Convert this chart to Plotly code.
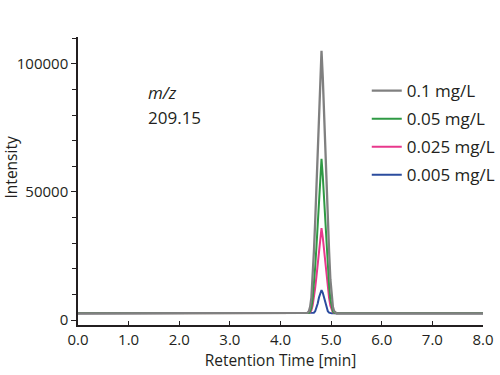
import plotly.graph_objects as go

# Retention time samples (min)
rt = [0.0, 4.51, 4.535, 4.56, 4.585, 4.61, 4.635, 4.66, 4.685, 4.71, 4.735, 4.76, 4.785, 4.81,
      4.835, 4.86, 4.885, 4.91, 4.935, 4.96, 4.985, 5.01, 5.035, 5.06, 5.085, 5.11, 8.0]

# Intensities
int_01 = [2600, 2600, 2805, 3420, 5160, 8750, 15930, 26690, 38480, 50780, 64100, 80500, 94850, 105100,
          94850, 80500, 64100, 50780, 38480, 26690, 15930, 8750, 5160, 3420, 2805, 2600, 2600]
int_005 = [2600, 2600, 2600, 2780, 3320, 4710, 8030, 13450, 20690, 28530, 36970, 47220, 56270, 62900,
           56270, 47220, 36970, 28530, 20690, 13450, 8030, 4710, 3320, 2780, 2600, 2600, 2600]
int_0025 = [2600, 2600, 2600, 2700, 3000, 3770, 5600, 8590, 12590, 16920, 21580, 27240, 32240, 35900,
            32240, 27240, 21580, 16920, 12590, 8590, 5600, 3770, 3000, 2700, 2600, 2600, 2600]
int_0005 = [2600, 2600, 2600, 2600, 2600, 2600, 2670, 2870, 3420, 4600, 6420, 8790, 10610, 11700,
            10610, 8790, 6420, 4600, 3420, 2870, 2670, 2600, 2600, 2600, 2600, 2600, 2600]

series_names = ["0.1 mg/L", "0.05 mg/L", "0.025 mg/L", "0.005 mg/L"]
series_values = [int_01, int_005, int_0025, int_0005]
series_colors = ["#808080", "#2f9a44", "#e8388c", "#2b4c9e"]
series_widths = [2.3, 2, 2, 2]

x_ticks = [0, 1, 2, 3, 4, 5, 6, 7, 8]
x_ticklabels = ["0.0", "1.0", "2.0", "3.0", "4.0", "5.0", "6.0", "7.0", "8.0"]
y_ticks = [0, 50000, 100000]
y_ticklabels = ["0", "50000", "100000"]

FONT = "Open Sans"

fig = go.Figure()
# draw smallest first so gray is on top; legend order set by legendrank
for i in reversed(range(4)):
    fig.add_trace(go.Scatter(
        x=rt, y=series_values[i], mode="lines", name=series_names[i],
        legendgroup=series_names[i], legendrank=i + 1,
        line=dict(color=series_colors[i], width=series_widths[i]),
    ))

fig.update_layout(
    width=500, height=375,
    margin=dict(l=78, r=17, t=37, b=50, autoexpand=False),
    paper_bgcolor="white", plot_bgcolor="white",
    font=dict(family=FONT, color="#231f20", size=15),
    showlegend=True,
    legend=dict(
        traceorder="grouped", x=0.713, y=0.875, xanchor="left", yanchor="top",
        bgcolor="rgba(0,0,0,0)", borderwidth=0, tracegroupgap=3,
        font=dict(family=FONT, size=17, color="#231f20"),
        itemwidth=30,
    ),
    xaxis=dict(
        range=[0, 8], tickmode="array", tickvals=x_ticks, ticktext=x_ticklabels,
        automargin=False,
        showgrid=False, zeroline=False, showline=True, linecolor="#231f20", linewidth=1.5,
        ticks="inside", ticklen=4, tickcolor="#231f20", tickwidth=1.2,
        tickfont=dict(size=15),
        title=dict(text="Retention Time [min]", font=dict(size=15.5), standoff=2),
    ),
    yaxis=dict(
        range=[-1950, 110500], tickmode="array", tickvals=y_ticks, ticktext=y_ticklabels,
        automargin=False,
        showgrid=False, zeroline=False, showline=True, linecolor="#231f20", linewidth=1.5,
        ticks="outside", ticklen=5, tickcolor="#231f20", tickwidth=1.2,
        minor=dict(ticks="outside", ticklen=4, dtick=10000, tick0=0, tickcolor="#231f20", tickwidth=1.2),
        tickfont=dict(size=15),
    ),
    annotations=[
        dict(x=-0.1654, y=0.547, xref="paper", yref="paper", text="Intensity", showarrow=False,
             textangle=-90, xanchor="center", yanchor="middle", font=dict(size=15.5, family=FONT)),
        dict(x=0.168, y=0.809, xref="paper", yref="paper", text="<i>m/z</i>", showarrow=False,
             xanchor="left", yanchor="middle", font=dict(size=17, family=FONT)),
        dict(x=0.168, y=0.719, xref="paper", yref="paper", text="209.15", showarrow=False,
             xanchor="left", yanchor="middle", font=dict(size=17, family=FONT)),
    ],
)

fig.write_html("out.html", config={"displayModeBar": False},
               post_script="document.body.style.margin='0';")
